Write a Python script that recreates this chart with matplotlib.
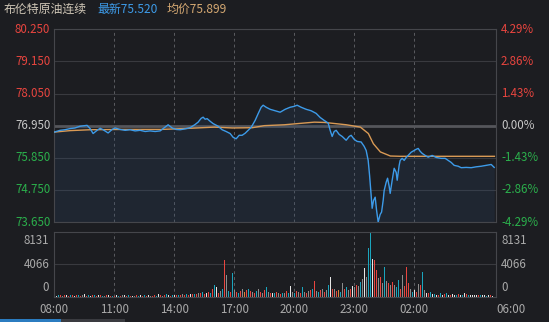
import numpy as np
import matplotlib
matplotlib.use("Agg")
import matplotlib.pyplot as plt
from matplotlib.patches import Rectangle

plt.rcParams['font.family'] = ['Noto Sans CJK SC', 'DejaVu Sans']

# ---------------- data ----------------
title_name = "布伦特原油连续"
latest_label = "最新75.520"
avg_label = "均价75.899"
prev_close = 76.95

price_hours = [0, 0.29, 0.53, 0.79, 1.03, 1.29, 1.64, 1.79, 1.94, 2.14, 2.29, 2.44, 2.69, 2.89,
               3.04, 3.29, 3.54, 3.79, 4.04, 4.29, 4.54, 4.79, 5.04, 5.29, 5.54, 5.69, 5.89,
               6.09, 6.29, 6.54, 6.79, 7.04, 7.19, 7.34, 7.44, 7.54, 7.64, 7.79, 7.94, 8.19,
               8.39, 8.59, 8.79, 8.94, 9.09, 9.24, 9.39, 9.54, 9.69, 9.84, 10.04, 10.19, 10.34,
               10.44, 10.59, 10.79, 11.04, 11.29, 11.54, 11.79, 11.99, 12.14, 12.34, 12.59,
               12.84, 13.09, 13.29, 13.49, 13.69, 13.79, 13.89, 13.99, 14.09, 14.24, 14.39,
               14.59, 14.74, 14.84, 14.99, 15.14, 15.34, 15.49, 15.59, 15.69, 15.76, 15.89,
               15.96, 16.04, 16.11, 16.19, 16.29, 16.36, 16.44, 16.49, 16.59, 16.66, 16.74,
               16.79, 16.89, 16.99, 17.09, 17.14, 17.24, 17.29, 17.39, 17.49, 17.59, 17.69,
               17.84, 17.99, 18.09, 18.19, 18.29, 18.39, 18.54, 18.69, 18.89, 19.09, 19.34,
               19.54, 19.69, 19.84, 19.99, 20.19, 20.34, 20.59, 20.84, 21.09, 21.34, 21.59,
               21.84, 21.99]
price_values = [76.73, 76.79, 76.81, 76.85, 76.87, 76.93, 76.96, 76.85, 76.68, 76.79, 76.86,
                76.81, 76.70, 76.82, 76.87, 76.82, 76.79, 76.81, 76.77, 76.79, 76.75, 76.77,
                76.75, 76.77, 76.90, 76.98, 76.87, 76.82, 76.81, 76.84, 76.88, 76.99, 77.07,
                77.20, 77.24, 77.17, 77.19, 77.10, 77.02, 76.93, 76.81, 76.75, 76.68, 76.55,
                76.50, 76.62, 76.62, 76.69, 76.79, 76.89, 77.13, 77.36, 77.58, 77.65, 77.58,
                77.51, 77.46, 77.41, 77.51, 77.58, 77.61, 77.65, 77.58, 77.51, 77.46, 77.37,
                77.23, 77.13, 77.04, 76.79, 76.58, 76.75, 76.79, 76.65, 76.58, 76.45, 76.58,
                76.62, 76.48, 76.41, 76.39, 76.24, 76.10, 75.76, 75.25, 74.12, 74.39, 74.50,
                74.05, 73.65, 73.91, 73.99, 74.39, 74.73, 75.01, 75.15, 74.87, 74.63, 75.08,
                75.49, 75.35, 75.08, 75.59, 75.76, 75.83, 75.76, 75.86, 75.93, 76.04, 76.10,
                76.14, 76.17, 76.07, 76.00, 75.93, 75.87, 75.93, 75.86, 75.83, 75.83, 75.76,
                75.69, 75.59, 75.56, 75.51, 75.52, 75.51, 75.54, 75.56, 75.59, 75.62, 75.52]

avg_hours = [0, 0.8, 1.8, 3.3, 5.3, 6.5, 8.0, 8.9, 9.9, 10.5, 11.5, 13.0, 13.5, 14.6, 15.3,
             15.7, 15.95, 16.3, 16.8, 17.3, 22.0]
avg_values = [76.73, 76.78, 76.81, 76.82, 76.82, 76.85, 76.90, 76.87, 76.88, 76.95, 76.98,
              77.07, 77.06, 76.98, 76.90, 76.68, 76.33, 76.05, 75.91, 75.90, 75.90]

volume_values = [
    180, 120, 220, 150, 100, 160, 240, 120, 200, 140,
    120, 220, 160, 100, 140, 300, 110, 170, 100, 210,
    130, 100, 170, 220, 110, 100, 150, 180, 120, 100,
    100, 160, 110, 90, 210, 130, 110, 160, 100, 120,
    110, 130, 100, 160, 110, 210, 100, 140, 120, 100,
    160, 110, 260, 130, 100, 160, 310, 130, 110, 210,
    160, 210, 130, 190, 260, 160, 310, 210, 260, 360,
    320, 260, 420, 380, 520, 320, 460, 620, 420, 900,
    1400, 1200, 500, 700, 900, 4570, 2670, 700, 600, 2960,
    800, 600, 500, 700, 900, 600, 800, 1000, 700, 600,
    500, 700, 900, 600, 500, 800, 1200, 600, 500, 400,
    400, 600, 500, 300, 500, 400, 700, 500, 1300, 600,
    500, 750, 600, 500, 1150, 600, 500, 700, 800, 900,
    1900, 700, 600, 800, 900, 600, 800, 1400, 2450, 900,
    1000, 700, 800, 600, 1750, 900, 1200, 800, 1000, 1300,
    1200, 1500, 1300, 1800, 2200, 3550, 2500, 6100, 8131, 4750,
    4570, 3300, 2290, 2450, 1650, 3700, 2000, 1650, 1500, 1800,
    1500, 1200, 2030, 1000, 2670, 1300, 3700, 1650, 900, 600,
    800, 600, 1520, 1400, 3080, 800, 500, 400, 600, 300,
    300, 200, 250, 400, 200, 300, 500, 200, 250, 300,
    250, 200, 300, 150, 200, 400, 300, 200, 150, 250,
    200, 150, 250, 150, 200, 150, 100, 200, 150, 100,
]
volume_colors = ("rwcrgrwrcr" "wrcrgwrcwr" "crwrcgrwrc" "rwcrgwrcrw" "grcwrcrwgr"
                 "rcwrgrcwrc" "wrcrgrcrwr" "crgrcrwrcr" "cwrgcrgcrc" "grcrgorcrg"
                 "rcgrgrcgrw" "crgrcgrcwg" "crgrcgrgrc" "rgcrgrgcwr" "grocgrcgrw"
                 "grgcgwgccw" "rrgrgcgrgr" "gccrgrrrgc" "wrgrcgwrcw" "cwrcwrcwrw"
                 "wcrwcwrcww" "wwrcwwcwrw")
volume_hours = np.arange(len(volume_values)) * 0.1

price_ticks = [80.250, 79.150, 78.050, 76.950, 75.850, 74.750, 73.650]
pct_labels = ["4.29%", "2.86%", "1.43%", "0.00%", "-1.43%", "-2.86%", "-4.29%"]
vol_ticks = [0, 4066, 8131]
time_labels = ["08:00", "11:00", "14:00", "17:00", "20:00", "23:00", "02:00", "06:00"]
time_label_hours = [0, 3, 6, 9, 12, 15, 18, 22.08]

# ---------------- style ----------------
BG = "#1c1d21"
GRID = "#393a3f"
RED = "#e8453f"
GREEN = "#2bb04c"
NEUT = "#c8c8c8"
LABEL = "#aaaaaa"
BLUE = "#3d9be9"
ORANGE = "#d99a55"
cmap = {"r": "#e8453f", "c": "#1ba5bd", "g": "#8c8c8c", "w": "#e6e6e6", "o": "#d9843a"}

W, H = 549, 322
fig = plt.figure(figsize=(W / 100, H / 100), dpi=100, facecolor=BG)

XMAX = 22.08
ax = fig.add_axes([54.3 / W, 1 - 222 / H, (496 - 54.3) / W, (222 - 29.3) / H])
axv = fig.add_axes([54.3 / W, 1 - 296.5 / H, (496 - 54.3) / W, (296.5 - 232) / H])

for a in (ax, axv):
    a.set_facecolor(BG)
    a.set_xlim(0, XMAX)
    for s in a.spines.values():
        s.set_color("#45464b")
        s.set_linewidth(0.8)
    a.tick_params(left=False, right=False, bottom=False, top=False,
                  labelleft=False, labelbottom=False)
    for h in [3, 6, 9, 12, 15, 18]:
        a.axvline(h, color="#5a5b60", lw=0.7, ls=(0, (3, 3)), zorder=1)

# main panel
ymin, ymax = 73.650, 80.250
ax.set_ylim(ymin, ymax)
for t in price_ticks:
    if abs(t - prev_close) < 1e-6:
        ax.axhline(t, color="#55565b", lw=2.0, zorder=1)
    else:
        ax.axhline(t, color=GRID, lw=0.8, zorder=1)

ax.fill_between(price_hours, price_values, ymin, color="#2c4a6e", alpha=0.22, lw=0, zorder=2)
ax.plot(avg_hours, avg_values, color=ORANGE, lw=1.0, zorder=3)
ax.plot(price_hours, price_values, color=BLUE, lw=1.0, zorder=4)

fs = 8.3
for t, pl in zip(price_ticks, pct_labels):
    col = RED if t > prev_close + 1e-6 else (GREEN if t < prev_close - 1e-6 else NEUT)
    ax.text(-0.2, t, f"{t:.3f}", transform=ax.transData, ha="right", va="center",
            color=col, fontsize=fs, clip_on=False)
    ax.text(XMAX + 0.25, t, pl, transform=ax.transData, ha="left", va="center",
            color=col, fontsize=fs, clip_on=False)

# volume panel
axv.set_ylim(0, 8131)
axv.axhline(4066, color=GRID, lw=0.8, zorder=1)
axv.bar(volume_hours, volume_values, width=0.065,
        color=[cmap[c] for c in volume_colors], align="center", zorder=2, lw=0)

vol_va = {0: "bottom", 4066: "center", 8131: "top"}
for v in vol_ticks:
    yy = v if v != 0 else 300
    yy = 7850 if v == 8131 else yy
    axv.text(-0.25, yy, str(v), ha="right", va=vol_va[v], color=LABEL, fontsize=fs, clip_on=False)
    axv.text(XMAX + 0.25, yy, str(v), ha="left", va=vol_va[v], color=LABEL, fontsize=fs, clip_on=False)

for h, lab in zip(time_label_hours, time_labels):
    ha = "left" if lab == "06:00" else "center"
    axv.text(h, -0.1, lab, transform=axv.get_xaxis_transform(), ha=ha, va="top",
             color=LABEL, fontsize=fs, clip_on=False)

# title
y_t = 1 - 9.5 / H
fig.text(4 / W, y_t, title_name, color="#cfc6b6", fontsize=8.6, va="center", ha="left")
fig.text(97 / W, y_t, latest_label, color=BLUE, fontsize=8.6, va="center", ha="left")
fig.text(167 / W, y_t, avg_label, color="#d4a872", fontsize=8.6, va="center", ha="left")

# bottom scroll indicator
fig.patches.append(Rectangle((0, 0), 61 / W, 3 / H, transform=fig.transFigure,
                             color="#2b7cc0", lw=0))
fig.patches.append(Rectangle((61 / W, 0), 64 / W, 3 / H, transform=fig.transFigure,
                             color="#3a3b40", lw=0))

fig.savefig("out.png", dpi=100, facecolor=BG)
